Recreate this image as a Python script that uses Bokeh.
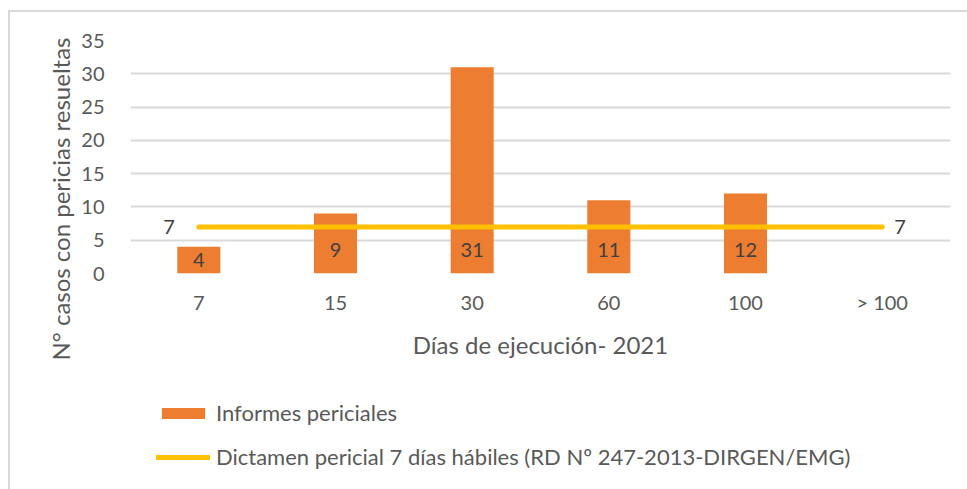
from bokeh.plotting import figure
from bokeh.layouts import column
from bokeh.models import (FactorRange, Range1d, FixedTicker, ColumnDataSource,
                          Legend, LegendItem, Title)
from bokeh.embed import file_html
from bokeh.resources import INLINE
from bokeh.core.properties import value

# ---- data ----
categories = ["7", "15", "30", "60", "100", "> 100"]
bar_values = [4, 9, 31, 11, 12, None]
line_values = [7, 7, 7, 7, 7, 7]
y_ticks = [0, 5, 10, 15, 20, 25, 30, 35]
bar_name = "Informes periciales"
line_name = "Dictamen pericial 7 días hábiles (RD Nº 247-2013-DIRGEN/EMG)"
x_title = "Días de ejecución- 2021"
y_title = "N° casos con  pericias resueltas"

FONT = "Lato"
ORANGE = "#ED7D31"
YELLOW = "#FFC000"
GRID = "#D9D9D9"
TXT = "#595959"
LBL = "#404040"

xr = FactorRange(factors=categories)
p = figure(width=957, height=373, output_backend="svg", toolbar_location=None,
           x_range=xr, y_range=Range1d(0, 35),
           min_border_left=120, min_border_right=17, min_border_top=28,
           min_border_bottom=112)
p.outline_line_color = None
p.background_fill_color = "white"
p.border_fill_color = "white"

# bars
bx = [c for c, v in zip(categories, bar_values) if v is not None]
bv = [v for v in bar_values if v is not None]
label_y = [min(v / 2.0, 3.6) for v in bv]
bar_src = ColumnDataSource(dict(x=bx, top=bv, ly=label_y, txt=[str(v) for v in bv]))
p.vbar(x="x", top="top", width=0.315, source=bar_src, fill_color=ORANGE,
       line_color=None)

# line
line_src = ColumnDataSource(dict(x=categories, y=line_values))
p.line(x="x", y="y", source=line_src, line_color=YELLOW, line_width=5,
       line_cap="round")

# bar labels
p.text(x="x", y="ly", text="txt", source=bar_src, text_font=value(FONT),
       text_font_size="20px", text_color=LBL, text_align="center",
       text_baseline="middle")

# line end labels
p.text(x=[categories[0]], y=[line_values[0]], text=[str(line_values[0])],
       text_font=value(FONT), text_font_size="20px", text_color=LBL,
       text_align="right", text_baseline="middle", x_offset=-24)
p.text(x=[categories[-1]], y=[line_values[-1]], text=[str(line_values[-1])],
       text_font=value(FONT), text_font_size="20px", text_color=LBL,
       text_align="left", text_baseline="middle", x_offset=12)

# axes
p.yaxis.ticker = FixedTicker(ticks=y_ticks)
for ax in (p.xaxis[0], p.yaxis[0]):
    ax.axis_line_color = None
    ax.major_tick_line_color = None
    ax.minor_tick_line_color = None
    ax.major_label_text_font = FONT
    ax.major_label_text_font_size = "20px"
    ax.major_label_text_color = TXT
    ax.axis_label_text_font = FONT
    ax.axis_label_text_font_size = "24px"
    ax.axis_label_text_font_style = "normal"
    ax.axis_label_text_color = TXT
p.xaxis.axis_label = x_title
p.yaxis.major_label_standoff = 20
p.xaxis.major_label_standoff = 10
p.xaxis.axis_label_standoff = 13

# y title as side title so it can be shifted like the reference
p.add_layout(Title(text=y_title, align="left", offset=-87, standoff=8,
                   text_font=FONT, text_font_size="24px",
                   text_font_style="normal", text_color=TXT), "left")

p.xgrid.grid_line_color = None
p.ygrid.grid_line_color = GRID
p.ygrid.grid_line_width = 2

# ---- legend strip (separate figure so nothing is clipped) ----
q = figure(width=957, height=104, output_backend="svg", toolbar_location=None,
           x_axis_type=None, y_axis_type=None,
           x_range=xr, y_range=Range1d(100, 101),
           min_border=0)
q.outline_line_color = None
q.xgrid.grid_line_color = None
q.ygrid.grid_line_color = None
# same series, kept out of view: only their legend swatches show
lb = q.vbar(x="x", top="top", width=0.315, source=bar_src, fill_color=ORANGE,
            line_color=None)
ll = q.line(x="x", y="y", source=line_src, line_color=YELLOW, line_width=5,
            line_cap="round")
legend = Legend(items=[LegendItem(label=bar_name, renderers=[lb]),
                       LegendItem(label=line_name, renderers=[ll])],
                location=(26, 19), orientation="vertical",
                glyph_width=54, glyph_height=14, label_standoff=6,
                label_text_font=FONT, label_text_font_size="22px",
                label_text_color=TXT, label_height=20, spacing=17,
                padding=0, margin=0, border_line_color=None,
                background_fill_alpha=0)
q.add_layout(legend, "center")

layout = column(p, q, spacing=0)
layout.styles = {"margin-left": "8px", "margin-top": "10px",
                 "border-left": "2px solid #D9D9D9",
                 "border-top": "2px solid #D9D9D9"}

open("out.html", "w").write(file_html(layout, INLINE))
